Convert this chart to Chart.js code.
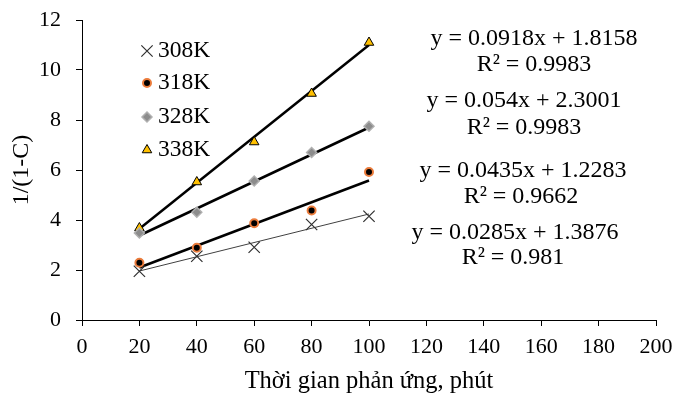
<!DOCTYPE html>
<html><head><meta charset="utf-8">
<script src="https://cdn.jsdelivr.net/npm/chart.js@4.4.1/dist/chart.umd.min.js"></script>
<style>html,body{margin:0;padding:0;background:#fff;}canvas{display:block;}</style>
</head><body>
<canvas id="c" width="675" height="396"></canvas>
<script>
// ---- data ----
const times = [20, 40, 60, 80, 100];
const seriesNames = ['308K', '318K', '328K', '338K'];
const v308 = [1.95, 2.55, 2.91, 3.82, 4.15];
const v318 = [2.29, 2.89, 3.87, 4.38, 5.92];
const v328 = [3.48, 4.31, 5.56, 6.70, 7.75];
const v338 = [3.68, 5.52, 7.12, 9.06, 11.10];
// trendline end points (x = 20 and x = 100)
const trendX = [20, 100];
const tr308 = [1.96, 4.24];
const tr318 = [2.10, 5.58];
const tr328 = [3.38, 7.70];
const tr338 = [3.65, 11.00];
const eqLabels = ['y = 0.0285x + 1.3876', 'y = 0.0435x + 1.2283', 'y = 0.054x + 2.3001', 'y = 0.0918x + 1.8158'];
const r2Labels = ['R² = 0.981', 'R² = 0.9662', 'R² = 0.9983', 'R² = 0.9983'];
const xTicks = [0, 20, 40, 60, 80, 100, 120, 140, 160, 180, 200];
const yTicks = [0, 2, 4, 6, 8, 10, 12];
const xTitle = 'Thời gian phản ứng, phút';
const yTitle = '1/(1-C)';

// ---- styles ----
const FONT = 'Liberation Serif, Times New Roman, serif';
const pointStyles = [
  {pointStyle: 'crossRot', radius: 8, backgroundColor: '#303030', borderColor: '#303030', borderWidth: 1.2},
  {pointStyle: 'circle', radius: 4, backgroundColor: '#000000', borderColor: '#EB7C3C', borderWidth: 2},
  {pointStyle: 'rectRot', radius: 5, backgroundColor: '#8C8C8C', borderColor: '#B0B0B0', borderWidth: 1.5},
  {pointStyle: 'triangle', radius: 5.5, backgroundColor: '#FFC000', borderColor: '#000000', borderWidth: 1}
];
const trendStyles = [
  {borderColor: '#404040', borderWidth: 1},
  {borderColor: '#000000', borderWidth: 2.5},
  {borderColor: '#000000', borderWidth: 2.5},
  {borderColor: '#000000', borderWidth: 2.5}
];
// label placement (pixel centers)
const eqPos = [[515, 233, 513, 258], [523, 171, 521, 197], [524, 101, 524, 128], [534, 39, 534, 65]];
const legendPos = {x: 147, y: [51, 83, 117, 150], textX: 158};

const values = [v308, v318, v328, v338];
const trends = [tr308, tr318, tr328, tr338];

const datasets = [];
values.forEach((vals, i) => {
  datasets.push({
    type: 'scatter', label: seriesNames[i],
    data: times.map((t, k) => ({x: t, y: vals[k]})),
    showLine: false, order: 0,
    pointRadius: pointStyles[i].radius, pointHoverRadius: pointStyles[i].radius,
    pointStyle: pointStyles[i].pointStyle,
    pointBackgroundColor: pointStyles[i].backgroundColor,
    pointBorderColor: pointStyles[i].borderColor,
    pointBorderWidth: pointStyles[i].borderWidth
  });
});
trends.forEach((tr, i) => {
  datasets.push({
    type: 'scatter', label: seriesNames[i] + ' trend',
    data: trendX.map((t, k) => ({x: t, y: tr[k]})),
    showLine: true, pointRadius: 0, order: 1,
    borderColor: trendStyles[i].borderColor, borderWidth: trendStyles[i].borderWidth,
    fill: false
  });
});

const overlay = {
  id: 'overlay',
  afterDraw(chart) {
    const ctx = chart.ctx;
    ctx.save();
    // legend
    seriesNames.forEach((name, i) => {
      const ps = pointStyles[i];
      const y = legendPos.y[i];
      ctx.fillStyle = ps.backgroundColor;
      ctx.strokeStyle = ps.borderColor;
      ctx.lineWidth = ps.borderWidth;
      Chart.helpers.drawPoint(ctx, {pointStyle: ps.pointStyle, radius: ps.radius, borderWidth: ps.borderWidth, rotation: 0}, legendPos.x, y);
      ctx.fillStyle = '#000';
      ctx.font = '23.5px ' + FONT;
      ctx.textAlign = 'left';
      ctx.textBaseline = 'middle';
      ctx.fillText(name, legendPos.textX, y);
    });
    // equations
    ctx.fillStyle = '#000';
    ctx.font = '24px ' + FONT;
    ctx.textAlign = 'center';
    ctx.textBaseline = 'middle';
    eqLabels.forEach((eq, i) => {
      const p = eqPos[i];
      ctx.fillText(eq, p[0], p[1]);
      ctx.fillText(r2Labels[i], p[2], p[3]);
    });
    ctx.restore();
  }
};

new Chart(document.getElementById('c'), {
  type: 'scatter',
  data: {datasets},
  options: {
    responsive: false, animation: false, devicePixelRatio: 1,
    layout: {padding: {left: 0, right: 19, top: 20, bottom: 0}},
    plugins: {legend: {display: false}, tooltip: {enabled: false}},
    scales: {
      x: {
        type: 'linear', min: 0, max: 200,
        afterBuildTicks: s => { s.ticks = xTicks.map(v => ({value: v})); },
        afterFit: s => { s.height = 76; s.paddingLeft = 0; s.paddingRight = 0; },
        ticks: {color: '#000', font: {family: FONT, size: 22}, padding: 8, maxRotation: 0, autoSkip: false},
        grid: {drawOnChartArea: false, drawTicks: true, tickLength: 6, color: '#000', lineWidth: 1},
        border: {display: true, color: '#000', width: 1},
        title: {display: true, text: xTitle, color: '#000', font: {family: FONT, size: 24.5}, padding: {top: 0, bottom: 0}}
      },
      y: {
        type: 'linear', min: 0, max: 12,
        afterBuildTicks: s => { s.ticks = yTicks.map(v => ({value: v})); },
        afterFit: s => { s.width = 82; s.paddingTop = 0; s.paddingBottom = 0; },
        ticks: {color: '#000', font: {family: FONT, size: 22}, padding: 15, autoSkip: false},
        grid: {drawOnChartArea: false, drawTicks: true, tickLength: 6, color: '#000', lineWidth: 1},
        border: {display: true, color: '#000', width: 1},
        title: {display: true, text: yTitle, color: '#000', font: {family: FONT, size: 24}, padding: {top: 7, bottom: 0}}
      }
    }
  },
  plugins: [overlay]
});
</script>
</body></html>
